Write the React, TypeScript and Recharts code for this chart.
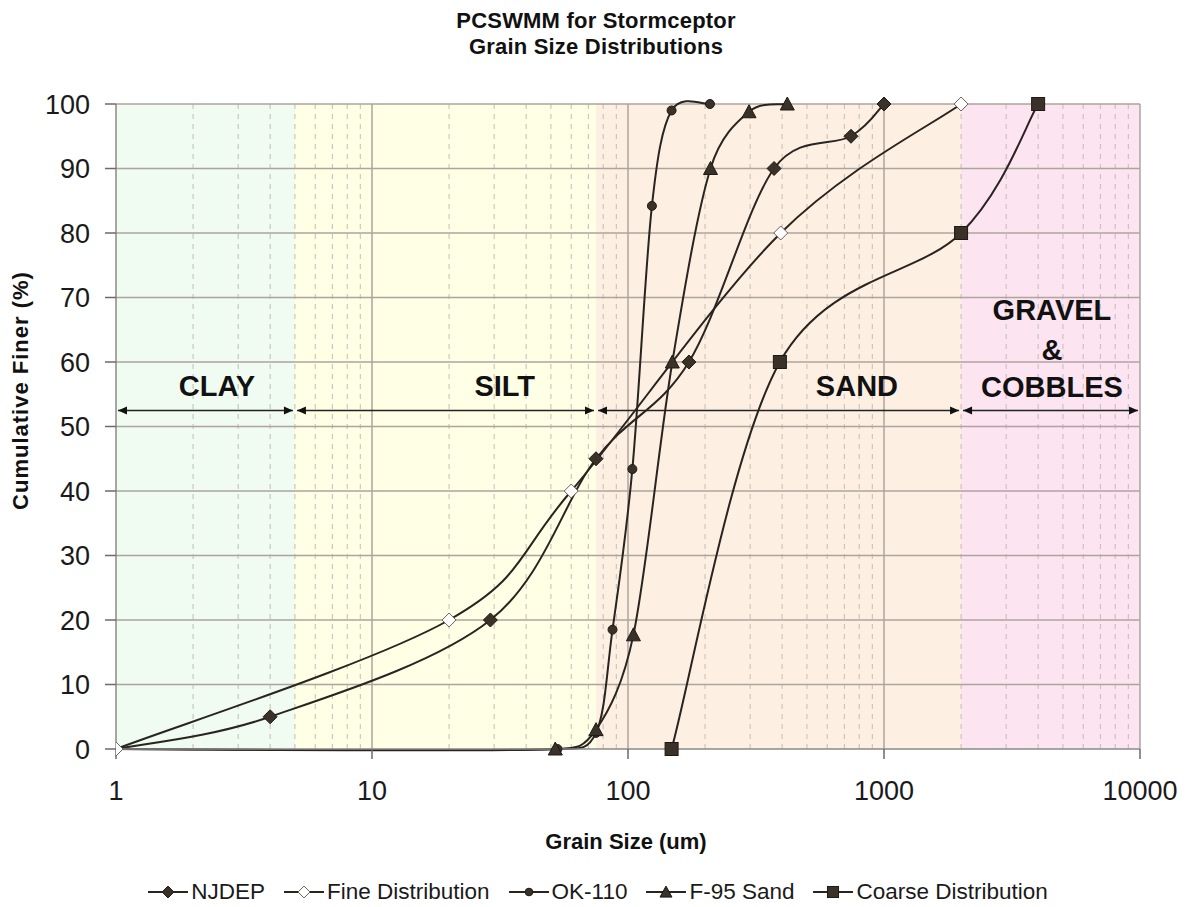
import React from 'react';
import {
  LineChart,
  Line,
  XAxis,
  YAxis,
  ReferenceArea,
  ReferenceLine,
  ReferenceDot,
  Legend,
} from 'recharts';

const FONT = '"Liberation Sans", Arial, Helvetica, sans-serif';

// ---- data (grain size in um, cumulative finer in %) ----
const njdepX = [1, 4, 29, 75, 173, 372, 743, 1000];
const njdepY = [0, 5, 20, 45, 60, 90, 95, 100];

const fineX = [1, 20, 60, 395, 2000];
const fineY = [0, 20, 40, 80, 100];

const ok110X = [1, 53, 75, 87, 104, 124, 148, 209];
const ok110Y = [0, 0, 2.5, 18.5, 43.4, 84.2, 99, 100];

const f95X = [1, 52, 75, 105, 149, 210, 297, 419];
const f95Y = [0, 0, 3, 17.7, 60, 90, 98.8, 100];

const coarseX = [148, 392, 2000, 4000];
const coarseY = [0, 60, 80, 100];

const seriesNames = ['NJDEP', 'Fine Distribution', 'OK-110', 'F-95 Sand', 'Coarse Distribution'];
const seriesMarkers = ['diamond', 'openDiamond', 'dot', 'triangle', 'square'];

// ---- axes / zones ----
const xTicks = [1, 10, 100, 1000, 10000];
const yTicks = [0, 10, 20, 30, 40, 50, 60, 70, 80, 90, 100];
const xMinor = [
  2, 3, 4, 5, 6, 7, 8, 9,
  20, 30, 40, 50, 60, 70, 80, 90,
  200, 300, 400, 500, 600, 700, 800, 900,
  2000, 3000, 4000, 5000, 6000, 7000, 8000, 9000,
];
const xMajor = [10, 100, 1000, 10000];
const yGrid = [10, 20, 30, 40, 50, 60, 70, 80, 90, 100];

const zoneNames = ['CLAY', 'SILT', 'SAND', 'GRAVEL & COBBLES'];
const zoneFrom = [1, 5, 75, 2000];
const zoneTo = [5, 75, 2000, 10000];
const zoneColors = ['#F0FBF1', '#FFFFE6', '#FDF0E3', '#FDE4F1'];
const arrowY = 52.5;

const labelTexts = ['CLAY', 'SILT', 'SAND', 'GRAVEL', '&', 'COBBLES'];
const labelX = [2.48, 33, 784, 4530, 4530, 4530];
const labelY = [56.3, 56.3, 56.3, 68.1, 61.9, 56.2];

const toPts = (xs: number[], ys: number[]) => xs.map((x, i) => ({ x, y: ys[i] }));

const seriesData = [
  toPts(njdepX, njdepY),
  toPts(fineX, fineY),
  toPts(ok110X, ok110Y),
  toPts(f95X, f95Y),
  toPts(coarseX, coarseY),
];

const MARK_FILL = '#3A3129';
const MARK_STROKE = '#1E1914';
const LINE_COLOR = '#2A2420';

// Spreadsheet-style smoothed line (Catmull-Rom, control arms limited to half the chord)
function smoothCurve(context: any) {
  let xs: number[] = [];
  let ys: number[] = [];
  const limit = (vx: number, vy: number, chord: number): [number, number] => {
    const len = Math.hypot(vx, vy);
    const max = chord * 0.5;
    if (len > max && len > 0) {
      const k = max / len;
      return [vx * k, vy * k];
    }
    return [vx, vy];
  };
  return {
    areaStart() {},
    areaEnd() {},
    lineStart() {
      xs = [];
      ys = [];
    },
    lineEnd() {
      const n = xs.length;
      if (n === 0) return;
      context.moveTo(xs[0], ys[0]);
      if (n === 1) return;
      for (let i = 0; i < n - 1; i++) {
        const i0 = Math.max(i - 1, 0);
        const i3 = Math.min(i + 2, n - 1);
        const x0 = xs[i0], y0 = ys[i0];
        const x1 = xs[i], y1 = ys[i];
        const x2 = xs[i + 1], y2 = ys[i + 1];
        const x3 = xs[i3], y3 = ys[i3];
        const chord = Math.hypot(x2 - x1, y2 - y1);
        const [ax, ay] = limit((x2 - x0) / 6, (y2 - y0) / 6, chord);
        const [bx, by] = limit((x3 - x1) / 6, (y3 - y1) / 6, chord);
        context.bezierCurveTo(x1 + ax, y1 + ay, x2 - bx, y2 - by, x2, y2);
      }
    },
    point(x: number, y: number) {
      xs.push(+x);
      ys.push(+y);
    },
  };
}

function Marker({ kind, cx, cy, s = 1 }: { kind: string; cx: number; cy: number; s?: number }) {
  if (kind === 'diamond' || kind === 'openDiamond') {
    const h = 7 * s;
    const open = kind === 'openDiamond';
    return (
      <polygon
        points={`${cx},${cy - h} ${cx + h},${cy} ${cx},${cy + h} ${cx - h},${cy}`}
        fill={open ? '#ffffff' : MARK_FILL}
        stroke={open ? '#6a625a' : MARK_STROKE}
        strokeWidth={1}
      />
    );
  }
  if (kind === 'dot') {
    return <circle cx={cx} cy={cy} r={4.5 * s} fill={MARK_FILL} stroke={MARK_STROKE} strokeWidth={1} />;
  }
  if (kind === 'triangle') {
    const w = 7 * s;
    return (
      <polygon
        points={`${cx},${cy - 7 * s} ${cx + w},${cy + 6 * s} ${cx - w},${cy + 6 * s}`}
        fill={MARK_FILL}
        stroke={MARK_STROKE}
        strokeWidth={1}
      />
    );
  }
  const h = 6.5 * s;
  return <rect x={cx - h} y={cy - h} width={2 * h} height={2 * h} fill={MARK_FILL} stroke={MARK_STROKE} strokeWidth={1} />;
}

const makeDot = (kind: string, skipOrigin: boolean) => (props: any) => {
  const { cx, cy, index, payload } = props;
  if (cx == null || cy == null || (skipOrigin && payload && payload.x === 1)) {
    return <g key={`d-${kind}-${index}`} />;
  }
  return (
    <g key={`d-${kind}-${index}`}>
      <Marker kind={kind} cx={cx} cy={cy} />
    </g>
  );
};

const ArrowShape = (props: any) => {
  const { x1, y1, x2 } = props;
  const a = Math.min(x1, x2) + 2;
  const b = Math.max(x1, x2) - 2;
  const y = y1;
  const L = 9;
  const H = 4;
  return (
    <g>
      <line x1={a} y1={y} x2={b} y2={y} stroke="#222" strokeWidth={1.5} />
      <polygon points={`${a},${y} ${a + L},${y - H} ${a + L},${y + H}`} fill="#111" />
      <polygon points={`${b},${y} ${b - L},${y - H} ${b - L},${y + H}`} fill="#111" />
    </g>
  );
};

const renderLegend = () => (
  <div
    style={{
      display: 'flex',
      justifyContent: 'center',
      alignItems: 'center',
      height: 30,
      fontFamily: FONT,
      fontSize: 22.5,
      color: '#1a1a1a',
      paddingLeft: 6,
    }}
  >
    {seriesNames.map((n, i) => (
      <div key={n} style={{ display: 'flex', alignItems: 'center', marginRight: i < seriesNames.length - 1 ? 19 : 0 }}>
        <svg width={40} height={18} style={{ display: 'block' }}>
          <line x1={0} y1={9} x2={40} y2={9} stroke={LINE_COLOR} strokeWidth={2} />
          <Marker kind={seriesMarkers[i]} cx={20} cy={9} s={0.85} />
        </svg>
        <span style={{ marginLeft: 3, whiteSpace: 'nowrap' }}>{n}</span>
      </div>
    ))}
  </div>
);

const YLabel = (props: any) => {
  const vb = props.viewBox || { x: 0, y: 104, width: 116, height: 645 };
  const cx = vb.x + 20;
  const cy = vb.y + vb.height / 2 - 36;
  return (
    <text
      x={cx}
      y={cy}
      transform={`rotate(-90, ${cx}, ${cy})`}
      textAnchor="middle"
      dominantBaseline="central"
      fontFamily={FONT}
      fontSize={22}
      fontWeight="bold"
      letterSpacing={1}
      fill="#111"
    >
      Cumulative Finer (%)
    </text>
  );
};

const XLabel = (props: any) => {
  const vb = props.viewBox || { x: 116, y: 749, width: 1024, height: 128 };
  const cx = vb.x + vb.width / 2 - 2;
  const cy = vb.y + 92;
  return (
    <text x={cx} y={cy} textAnchor="middle" dominantBaseline="central" fontFamily={FONT} fontSize={22} fontWeight="bold" fill="#111">
      Grain Size (um)
    </text>
  );
};

export default function App() {
  return (
    <div style={{ position: 'absolute', left: 0, top: 0, width: 1190, height: 907, background: '#ffffff' }}>
      <div
        style={{
          position: 'absolute',
          left: 0,
          top: 8,
          width: 1192,
          textAlign: 'center',
          fontFamily: FONT,
          fontSize: 22,
          fontWeight: 'bold',
          letterSpacing: '0.2px',
          lineHeight: '26px',
          color: '#111',
          zIndex: 2,
        }}
      >
        <div>PCSWMM for Stormceptor</div>
        <div>Grain Size Distributions</div>
      </div>
      <LineChart width={1190} height={907} margin={{ top: 104, right: 50, bottom: 0, left: 0 }}>
        <XAxis
          dataKey="x"
          type="number"
          scale="log"
          domain={[1, 10000]}
          ticks={xTicks}
          interval={0}
          allowDataOverflow
          height={128}
          tickSize={10}
          tickMargin={22}
          axisLine={{ stroke: '#8a8a8a', strokeWidth: 1.5 }}
          tickLine={{ stroke: '#6a6a6a', strokeWidth: 1.5 }}
          tick={{ fontFamily: FONT, fontSize: 27, fill: '#1a1a1a' }}
          label={<XLabel />}
        />
        <YAxis
          type="number"
          domain={[0, 100]}
          ticks={yTicks}
          interval={0}
          width={116}
          tickSize={11}
          tickMargin={15}
          axisLine={{ stroke: '#8a8a8a', strokeWidth: 1.5 }}
          tickLine={{ stroke: '#6a6a6a', strokeWidth: 1.5 }}
          tick={{ fontFamily: FONT, fontSize: 27, fill: '#1a1a1a' }}
          label={<YLabel />}
        />

        {zoneNames.map((z, i) => (
          <ReferenceArea
            key={`zone-${z}`}
            x1={zoneFrom[i]}
            x2={zoneTo[i]}
            y1={0}
            y2={100}
            fill={zoneColors[i]}
            fillOpacity={1}
            stroke="none"
          />
        ))}

        {xMinor.map((v) => (
          <ReferenceLine key={`xm-${v}`} x={v} stroke="#C4BCB4" strokeWidth={1} strokeDasharray="5 5" />
        ))}
        {xMajor.map((v) => (
          <ReferenceLine key={`xM-${v}`} x={v} stroke="#ADA59D" strokeWidth={1.5} />
        ))}
        {yGrid.map((v) => (
          <ReferenceLine key={`yg-${v}`} y={v} stroke="#ADA59D" strokeWidth={1.5} />
        ))}

        {zoneNames.map((z, i) => (
          <ReferenceLine
            key={`arrow-${z}`}
            segment={[
              { x: zoneFrom[i], y: arrowY },
              { x: zoneTo[i], y: arrowY },
            ]}
            shape={ArrowShape}
          />
        ))}

        {labelTexts.map((t, i) => (
          <ReferenceDot
            key={`lbl-${t}`}
            x={labelX[i]}
            y={labelY[i]}
            r={0}
            fill="none"
            stroke="none"
            label={{
              value: t,
              position: 'center',
              fontFamily: FONT,
              fontSize: 29,
              fontWeight: 'bold',
              fill: '#111',
            }}
          />
        ))}

        {seriesNames.map((n, i) => (
          <Line
            key={n}
            name={n}
            data={seriesData[i]}
            dataKey="y"
            type={smoothCurve as any}
            stroke={LINE_COLOR}
            strokeWidth={2}
            dot={makeDot(seriesMarkers[i], i === 2 || i === 3)}
            activeDot={false}
            legendType="none"
            isAnimationActive={false}
          />
        ))}

        <Legend verticalAlign="bottom" height={30} content={renderLegend} wrapperStyle={{ left: 0, width: 1190 }} />
      </LineChart>
    </div>
  );
}
